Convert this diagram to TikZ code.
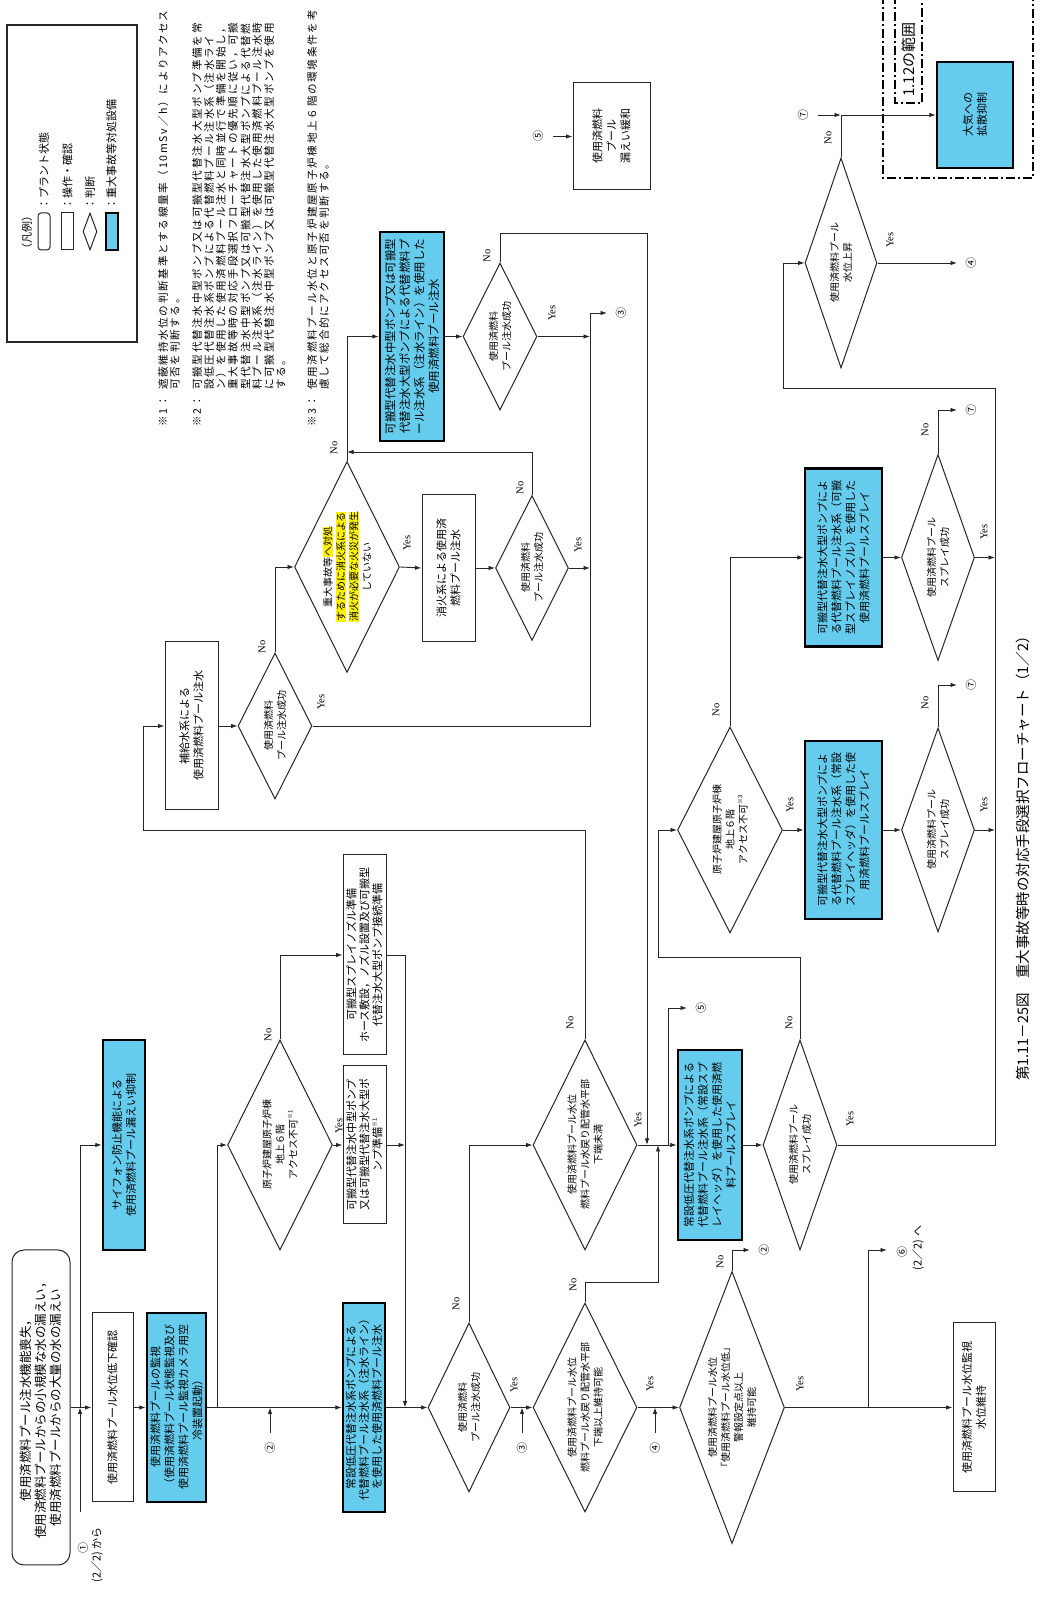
\documentclass[tikz,border=0pt]{standalone}
\usepackage{fontspec}
\setmainfont{Noto Sans CJK JP}
\newfontfamily\ynfont{Liberation Serif}
\newfontfamily\notefont[LetterSpace=16]{Noto Sans CJK JP}
\usetikzlibrary{shapes.geometric,arrows.meta}
\definecolor{sablue}{RGB}{102,204,238}
\setlength{\fboxsep}{0.3pt}
\newcommand{\hlY}[1]{\colorbox{yellow}{#1}}
\newcommand{\sups}[1]{\raisebox{0.45em}{\fontsize{6}{6}\selectfont #1}}
\newcommand{\fsB}{\fontsize{11}{14}\selectfont}
\newcommand{\fsC}{\fontsize{11}{13}\selectfont}
\newcommand{\fsS}{\fontsize{12.5}{15}\selectfont}
\newcommand{\fsP}{\fontsize{11.5}{14.5}\selectfont}
\newcommand{\fsD}{\fontsize{10}{13}\selectfont}
\newcommand{\fsY}{\ynfont\fontsize{10.5}{12}\selectfont}
\newcommand{\fsN}{\fontsize{11}{12}\selectfont}
\newcommand{\fsNote}{\notefont\fontsize{10.6}{11}\selectfont}
\newcommand{\fsL}{\fontsize{11}{12}\selectfont}
\newcommand{\fsT}{\fontsize{15}{16}\selectfont}
\newcommand{\fsTi}{\fontsize{14.5}{16}\selectfont}
\begin{document}
\begin{tikzpicture}[x=1pt,y=1pt,
  ln/.style={line width=0.9pt, draw=black!85},
  arr/.style={ln, -{Latex[length=6.5pt,width=4.5pt]}},
  pbox/.style 2 args={draw=black!85, line width=1pt, inner sep=0pt, align=center, font=\fsB, minimum width=#1, minimum height=#2},
  bbox/.style 2 args={pbox={#1}{#2}, fill=sablue, line width=2.5pt, draw=black},
  dia/.style 2 args={diamond, draw=black!85, line width=1pt, minimum width=#1, minimum height=#2, inner sep=0pt},
  dtext/.style={align=center, font=\fsD, inner sep=0pt},
  yn/.style={font=\fsY, inner sep=0pt},
  cn/.style={font=\fsN, inner sep=0pt},
  note/.style={font=\fsNote, anchor=west, inner sep=0pt},
  lgt/.style={font=\fsL, anchor=west, inner sep=0pt},
  dd/.style={line width=2.2pt, dash pattern=on 9pt off 3pt on 2pt off 3pt}]
\useasboundingbox (0,0) rectangle (1040,1600);
\fill[white] (0,0) rectangle (1040,1600);
\begin{scope}[shift={(1040,0)},rotate=90,transform shape]

% ---------- legend ----------
\node[draw=black!85, line width=1.2pt, minimum width=317, minimum height=130, inner sep=0pt] (legend) at (1416.5,968) {};
\node[lgt] (lgT) at (1345,1013) {（凡例）};
\node[pbox={37}{12}, rounded corners=3pt] (lg1) at (1368.5,996) {};
\node[lgt] (lg1t) at (1390,996) {：プラント状態};
\node[pbox={37}{12}] (lg2) at (1368.5,972.5) {};
\node[lgt] (lg2t) at (1390,972.5) {：操作・確認};
\node[dia={37}{14}] (lg3) at (1368.5,950) {};
\node[lgt] (lg3t) at (1390,950) {：判断};
\node[bbox={37}{12}, line width=2pt] (lg4) at (1368.5,928.5) {};
\node[lgt] (lg4t) at (1390,928.5) {：重大事故等対処設備};

% ---------- notes ----------
\node[note] (n1m) at (1173,877) {※1：};
\node[note] (n1a) at (1210,877) {遮蔽維持水位の判断基準とする線量率（10mSv／h）によりアクセス};
\node[note] (n1b) at (1210,865) {可否を判断する。};
\node[note] (n2m) at (1173,843) {※2：};
\node[note] (n2a) at (1210,843) {可搬型代替注水中型ポンプ又は可搬型代替注水大型ポンプ準備を常};
\node[note] (n2b) at (1210,831) {設低圧代替注水系ポンプによる代替燃料プール注水系（注水ライ};
\node[note] (n2c) at (1210,819) {ン）を使用した使用済燃料プール注水と同時並行で準備を開始し，};
\node[note] (n2d) at (1210,807) {重大事故等時の対応手段選択フローチャートの優先順に従い，可搬};
\node[note] (n2e) at (1210,794.5) {型代替注水中型ポンプ又は可搬型代替注水大型ポンプによる代替燃};
\node[note] (n2f) at (1210,783) {料プール注水系（注水ライン）を使用した使用済燃料プール注水時};
\node[note] (n2g) at (1210,771) {に可搬型代替注水中型ポンプ又は可搬型代替注水大型ポンプを使用};
\node[note] (n2h) at (1210,759) {する。};
\node[note] (n3m) at (1173,728) {※3：};
\node[note] (n3a) at (1210,728) {使用済燃料プール水位と原子炉建屋原子炉棟地上６階の環境条件を考};
\node[note] (n3b) at (1210,716) {慮して総合的にアクセス可否を判断する。};

% ---------- nodes ----------
\node[pbox={315}{58}, rounded corners=12pt, font=\fsS] (start) at (192.5,999) {使用済燃料プール注水機能喪失，\\使用済燃料プールからの小規模な水の漏えい，\\使用済燃料プールからの大量の水の漏えい};
\node[pbox={189}{41}] (confirm) at (192.5,927.5) {使用済燃料プール水位低下確認};
\node[bbox={189}{59}] (monitor) at (192.5,863.5) {使用済燃料プールの監視\\（使用済燃料プール状態監視及び\\使用済燃料プール監視カメラ用空\\冷装置起動）};
\node[bbox={210}{42}] (siphon) at (455,916) {サイフォン防止機能による\\使用済燃料プール漏えい抑制};
\node[bbox={209}{42}, font=\fsC] (lowp) at (192.5,676) {常設低圧代替注水系ポンプによる\\代替燃料プール注水系（注水ライン）\\を使用した使用済燃料プール注水};

\node[dia={210}{105}] (Dacc1) at (455,760) {};
\node[dtext] (Dacc1t) at (Dacc1) {原子炉建屋原子炉棟\\地上６階\\アクセス不可\sups{※1}};
\node[pbox={158}{43}, font=\fsC] (prepY) at (455,675.5) {可搬型代替注水中型ポンプ\\又は可搬型代替注水大型ポ\\ンプ準備\sups{※1}};
\node[pbox={200}{43}, font=\fsC] (prepN) at (645,675.5) {可搬型スプレイノズル準備\\ホース敷設，ノズル設置及び可搬型\\代替注水大型ポンプ接続準備};

\node[dia={169}{82}] (D1) at (192.5,571) {};
\node[dtext] (D1t) at (D1) {使用済燃料\\プール注水成功};
\node[dia={209}{104}] (D3) at (192.5,455) {};
\node[dtext] (D3t) at (D3) {使用済燃料プール水位\\燃料プール水戻り配管水平部\\下端以上維持可能};
\node[dia={272}{105}] (D10) at (192.5,308) {};
\node[dtext] (D10t) at (D10) {使用済燃料プール水位\\「使用済燃料プール水位低」\\警報設定点以上\\維持可能};
\node[pbox={169}{42}] (keep) at (192.5,66) {使用済燃料プール水位監視\\水位維持};

\node[dia={210}{104}] (D2) at (455,455) {};
\node[dtext] (D2t) at (D2) {使用済燃料プール水位\\燃料プール水戻り配管水平部\\下端未満};
\node[bbox={190}{64}] (spray1) at (455,330) {常設低圧代替注水系ポンプによる\\代替燃料プール注水系（常設スプ\\レイヘッダ）を使用した使用済燃\\料プールスプレイ};
\node[dia={210}{74}] (S1) at (455,240) {};
\node[dtext] (S1t) at (S1) {使用済燃料プール\\スプレイ成功};

\node[dia={206}{105}] (Dacc3) at (770,310) {};
\node[dtext] (Dacc3t) at (Dacc3) {原子炉建屋原子炉棟\\地上６階\\アクセス不可\sups{※3}};
\node[bbox={178}{77}] (spray2) at (770,196.5) {可搬型代替注水大型ポンプによ\\る代替燃料プール注水系（常設\\スプレイヘッダ）を使用した使\\用済燃料プールスプレイ};
\node[dia={204}{73}] (S2) at (770,102) {};
\node[dtext] (S2t) at (S2) {使用済燃料プール\\スプレイ成功};
\node[bbox={178}{77}] (spray3) at (1042.5,196.5) {可搬型代替注水大型ポンプによ\\る代替燃料プール注水系（可搬\\型スプレイノズル）を使用した\\使用済燃料プールスプレイ};
\node[dia={206}{73}] (S3) at (1042.5,102) {};
\node[dtext] (S3t) at (S3) {使用済燃料プール\\スプレイ成功};

\node[dia={210}{72}] (D5) at (1337,199) {};
\node[dtext] (D5t) at (D5) {使用済燃料プール\\水位上昇};
\node[bbox={106}{76}] (diffuse) at (1485,65) {大気への\\拡散抑制};

\node[pbox={168}{53}] (makeup) at (874,848.5) {補給水系による\\使用済燃料プール注水};
\node[dia={146}{74}] (D6) at (874,765) {};
\node[dtext] (D6t) at (D6) {使用済燃料\\プール注水成功};
\node[dia={211}{105}] (D7) at (1033,693) {};
\node[dtext] (D7t) at (D7) {重大事故等\hlY{へ対処}\\\hlY{するために消火系による}\\\hlY{消火が必要な火災が発生}\\していない};
\node[pbox={147}{53}] (fire) at (1032,591.5) {消火系による使用済\\燃料プール注水};
\node[dia={145}{73}] (D8) at (1032,508) {};
\node[dtext] (D8t) at (D8) {使用済燃料\\プール注水成功};
\node[bbox={209}{64}, font=\fsP] (portable) at (1263.5,628) {可搬型代替注水中型ポンプ又は可搬型\\代替注水大型ポンプによる代替燃料プ\\ール注水系（注水ライン）を使用した\\使用済燃料プール注水};
\node[dia={147}{74}] (D9) at (1263.5,540) {};
\node[dtext] (D9t) at (D9) {使用済燃料\\プール注水成功};
\node[pbox={107}{77}] (leak) at (1463.5,428.5) {使用済燃料\\プール\\漏えい緩和};

% ---------- scope frame ----------
\draw[dd] (1605,157) -- (1422,157) -- (1422,7) -- (1605,7);
\draw[dd] (1605,145) -- (1497,145) -- (1497,118) -- (1605,118);
\node[font=\fsT, anchor=west, inner sep=0pt] (rng) at (1503,131.5) {1.12の範囲};

% ---------- coordinates ----------
\coordinate (c1) at (88,960);
\coordinate (j1) at (192.5,960);
\coordinate (j2) at (192.5,823);
\coordinate (c2a) at (167,770);
\coordinate (c2b) at (192.5,770);
\coordinate (j3) at (192.5,635);
\coordinate (c3a) at (167,518);
\coordinate (c3b) at (192.5,518);
\coordinate (c4a) at (167,385);
\coordinate (c4b) at (192.5,385);
\coordinate (k1) at (318,455);
\coordinate (j4) at (455,382);
\coordinate (j5) at (455,393);
\coordinate (k2) at (1367,540);
\coordinate (j6) at (455,372);
\coordinate (c5) at (592,353);
\coordinate (j7) at (192.5,172);
\coordinate (c6) at (350,153);
\coordinate (k3) at (350,308);
\coordinate (c2c) at (350,290);
\coordinate (k4) at (770,455);
\coordinate (k5) at (770,897);
\coordinate (k6) at (643,240);
\coordinate (k7) at (643,382);
\coordinate (k8) at (455,45);
\coordinate (k9) at (1212,45);
\coordinate (k10) at (1212,257);
\coordinate (k11) at (915,102);
\coordinate (c7a) at (915,83);
\coordinate (k12) at (1190,102);
\coordinate (c7b) at (1190,83);
\coordinate (c4c) at (1337,83);
\coordinate (k13) at (1485,199);
\coordinate (c7c) at (1485,222);
\coordinate (k14) at (874,450);
\coordinate (k15) at (1287,450);
\coordinate (c3c) at (1287,433);
\coordinate (k16) at (1148,508);
\coordinate (k17) at (1148,693);
\coordinate (c5b) at (1463.5,487);

% ---------- connectors ----------
\draw[arr] (c1) -- (j1);
\draw[arr] (j1) -| (siphon.north);
\draw[arr] (start.south) -- (confirm.north);
\draw[arr] (confirm.south) -- (monitor.north);
\draw[arr] (monitor.south) -- (lowp.north);
\draw[arr] (j2) -| (Dacc1.north);
\draw[arr] (c2a) -- (c2b);
\draw[arr] (Dacc1.south) -- (prepY.north);
\draw[arr] (Dacc1.east) -| (prepN.north);
\draw[arr] (prepN.south) |- (j3);
\draw[arr] (prepY.south) -- (prepY.south |- j3);
\draw[arr] (lowp.south) -- (D1.north);
\draw[arr] (D1.south) -- (D3.north);
\draw[arr] (c3a) -- (c3b);
\draw[arr] (D1.east) -| (D2.north);
\draw[arr] (D3.south) -- (D10.north);
\draw[arr] (c4a) -- (c4b);
\draw[arr] (D3.east) -- (k1) |- (j4);
\draw[arr] (D2.south) -- (spray1.north);
\draw[arr] (D9.east) -- (k2) |- (j5);
\draw[arr] (j6) -| (c5);
\draw[arr] (D10.south) -- (keep.north);
\draw[arr] (j7) -| (c6);
\draw[arr] (D10.east) -- (k3) -- (c2c);
\draw[arr] (D2.east) -- (k4) -- (k5) -| (makeup.north);
\draw[arr] (spray1.south) -- (S1.north);
\draw[arr] (S1.east) -- (k6) -- (k7) -| (Dacc3.north);
\draw[arr] (S1.south) -- (k8) -- (k9) -- (k10) -| (D5.north);
\draw[arr] (Dacc3.south) -- (spray2.north);
\draw[arr] (Dacc3.east) -| (spray3.north);
\draw[arr] (spray2.south) -- (S2.north);
\draw[arr] (spray3.south) -- (S3.north);
\draw[arr] (S2.south) -- (S2.south |- k8);
\draw[arr] (S3.south) -- (S3.south |- k8);
\draw[arr] (S2.east) -- (k11) -- (c7a);
\draw[arr] (S3.east) -- (k12) -- (c7b);
\draw[arr] (D5.south) -- (c4c);
\draw[arr] (D5.east) -- (k13) -- (diffuse.north);
\draw[arr] (c7c) -- (k13);
\draw[arr] (makeup.south) -- (D6.north);
\draw[arr] (D6.south) -- (k14) -- (k15) -- (c3c);
\draw[arr] (D6.east) -| (D7.north);
\draw[arr] (D7.south) -- (fire.north);
\draw[arr] (fire.south) -- (D8.north);
\draw[arr] (D8.south) -- (D8.south |- k14);
\draw[arr] (D8.east) -- (k16) -- (k17);
\draw[arr] (D7.east) -| (portable.north);
\draw[arr] (portable.south) -- (D9.north);
\draw[arr] (D9.south) -- (D9.south |- k14);
\draw[arr] (c5b) -- (leak.north);

% ---------- connector labels ----------
\node[cn] (L1a) at (52,957) {①};
\node[cn] (L1b) at (45,943) {(2／2) から};
\node[cn] (L2a) at (152,770) {②};
\node[cn] (L3a) at (152,518) {③};
\node[cn] (L4a) at (152,385) {④};
\node[cn] (L2b) at (350,276) {②};
\node[cn] (L6a) at (348,138) {⑥};
\node[cn] (L6b) at (352,122) {(2／2) へ};
\node[cn] (L5a) at (592,339) {⑤};
\node[cn] (L7a) at (915,69) {⑦};
\node[cn] (L7b) at (1190,69) {⑦};
\node[cn] (L4b) at (1337,69) {④};
\node[cn] (L7c) at (1485,237) {⑦};
\node[cn] (L3b) at (1287,419) {③};
\node[cn] (L5b) at (1463.5,502) {⑤};

\node[yn] (yA1) at (474,701) {Yes};
\node[yn] (nA1) at (565,772) {No};
\node[yn] (y1) at (215,526) {Yes};
\node[yn] (n1) at (296,584) {No};
\node[yn] (y3) at (216,390) {Yes};
\node[yn] (n3) at (315,467) {No};
\node[yn] (n10) at (338,320) {No};
\node[yn] (y10) at (216,240) {Yes};
\node[yn] (n2) at (577,470) {No};
\node[yn] (y2) at (480,402) {Yes};
\node[yn] (nS1) at (577,251) {No};
\node[yn] (yS1) at (481,190) {Yes};
\node[yn] (yA3) at (795,250) {Yes};
\node[yn] (nA3) at (890,324) {No};
\node[yn] (nS2) at (897,115) {No};
\node[yn] (yS2) at (795,56) {Yes};
\node[yn] (nS3) at (1170,115) {No};
\node[yn] (yS3) at (1068,56) {Yes};
\node[yn] (n5) at (1462,212) {No};
\node[yn] (y5) at (1360,150) {Yes};
\node[yn] (y6) at (898,719) {Yes};
\node[yn] (n6) at (953,778) {No};
\node[yn] (y7) at (1057,633) {Yes};
\node[yn] (n7) at (1152,706) {No};
\node[yn] (n8) at (1112,520) {No};
\node[yn] (y8) at (1055,462) {Yes};
\node[yn] (n9) at (1344,553) {No};
\node[yn] (y9) at (1287,488) {Yes};

% ---------- title ----------
\node[font=\fsTi, inner sep=0pt] (title) at (745,17) {第1.11－25図　重大事故等時の対応手段選択フローチャート（1／2）};
\end{scope}
\end{tikzpicture}
\end{document}
